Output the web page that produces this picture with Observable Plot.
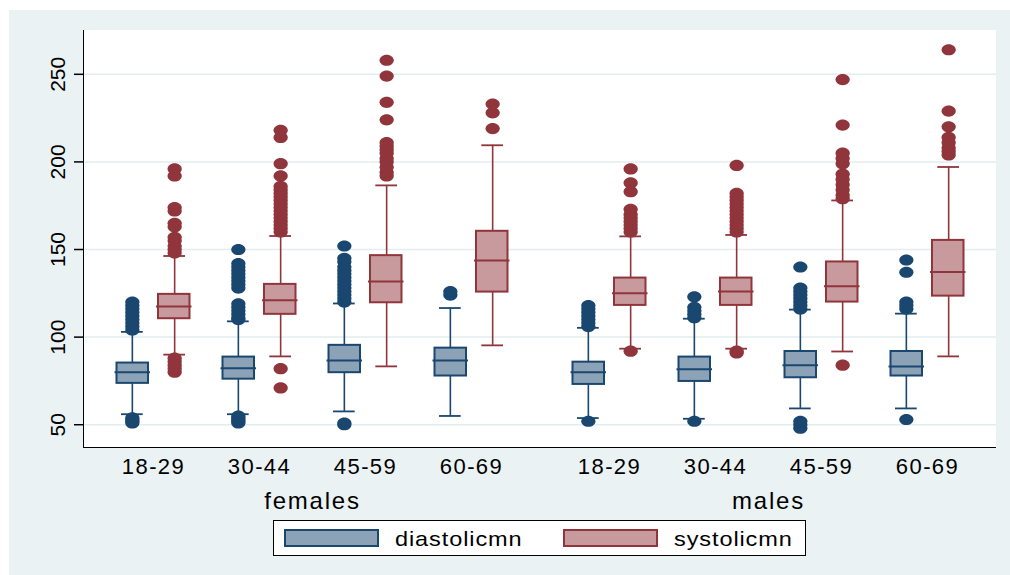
<!DOCTYPE html>
<html>
<head>
<meta charset="utf-8">
<script src="https://cdn.jsdelivr.net/npm/d3@7"></script>
<script src="https://cdn.jsdelivr.net/npm/@observablehq/plot@0.6"></script>
<style>
  html, body { margin: 0; padding: 0; background: white; }
  #bg { position: absolute; left: 9px; top: 10px; width: 1001px; height: 565px; background: #EAF2F3; }
  #panel { position: absolute; left: 83.1px; top: 30px; width: 912.9px; height: 417.9px; box-sizing: border-box;
           background: white; border-left: 1.8px solid black; border-bottom: 1.8px solid black; }
  #chart { position: absolute; left: 0; top: 0; }
  #chart svg { overflow: visible; }
  #legend { position: absolute; left: 273px; top: 520px; width: 533px; height: 36px; box-sizing: border-box;
            border: 1.5px solid black; background: white; font-family: "Liberation Sans", Arial, sans-serif; }
  #legend .sw { position: absolute; top: 7.5px; width: 95px; height: 18px; box-sizing: border-box; border: 2px solid; }
  #legend .lb { position: absolute; top: 6.5px; font-size: 21px; line-height: 21px; letter-spacing: 0.8px;
                transform: scaleX(1.12); transform-origin: left center; white-space: nowrap; color: black; }
</style>
</head>
<body>
<div id="bg"></div>
<div id="panel"></div>
<div id="chart"></div>
<div id="legend"></div>
<script>
// ---- data ----
const sexes = ["females", "males"];
const ages = ["18-29", "30-44", "45-59", "60-69"];
const series = ["diastolicmn", "systolicmn"];
const yTicks = [50, 100, 150, 200, 250];

// order: females 18-29,30-44,45-59,60-69, males 18-29,30-44,45-59,60-69
const diaLow  = [56, 56, 57.6, 55, 53.8, 53.4, 59.3, 59.3];
const diaQ1   = [73.6, 76, 79.7, 77.8, 73, 74.7, 76.8, 77.8];
const diaMed  = [80, 82.3, 86.7, 86.7, 80, 81.6, 83.9, 83.3];
const diaQ3   = [85.2, 88.6, 95.3, 93.7, 85.7, 88.6, 91.8, 91.8];
const diaHigh = [103, 109, 119.2, 116.6, 105.3, 110.5, 115.7, 113.4];

const sysLow  = [90, 89, 83.3, 95.3, 93.4, 93.4, 91.8, 89];
const sysQ1   = [110.5, 113, 119.6, 125.7, 118.1, 118.1, 120, 123.4];
const sysMed  = [117.5, 121, 131.8, 143.8, 125.1, 126.1, 129.1, 137.1];
const sysQ3   = [124.4, 130.1, 146.5, 160.4, 133.7, 133.7, 142.9, 155.2];
const sysHigh = [146.3, 157.7, 186.6, 209.5, 157.5, 158.3, 178, 197.1];

const diaOut = [
  [51, 52, 53, 54, 104, 106, 108, 110, 112, 114, 116, 118, 120],
  [51, 52, 53, 54, 55, 110, 111, 113, 115, 117, 119, 128, 130, 132, 134, 136, 138, 140, 142, 150],
  [50, 51, 120, 122, 124, 126, 128, 130, 132, 134, 136, 138, 140, 143, 145, 152],
  [124, 126],
  [52, 106, 108, 110, 112, 114, 116, 118],
  [52, 111, 113, 115, 117, 123],
  [48, 50, 52, 116, 118, 120, 122, 124, 126, 128, 140],
  [53, 116, 118, 120, 137, 144]
];
const sysOut = [
  [80, 82, 84, 86, 88, 148, 150, 152, 155, 157, 163, 165, 172, 174, 192, 196],
  [71, 82, 160, 162, 164, 166, 168, 170, 172, 174, 176, 178, 180, 182, 184, 186, 192, 199, 214, 218],
  [192, 194, 197, 200, 202, 205, 207, 209, 211, 224, 234, 249, 258],
  [219, 228, 233],
  [92, 160, 162, 164, 166, 168, 170, 173, 183, 188, 196],
  [91, 92, 160, 162, 164, 166, 168, 170, 172, 174, 176, 178, 180, 182, 198],
  [84, 179, 181, 184, 187, 190, 193, 199, 202, 205, 221, 247],
  [204, 206, 208, 211, 214, 220, 229, 264]
];

// ---- build tables ----
const stats = {
  diastolicmn: {low: diaLow, q1: diaQ1, med: diaMed, q3: diaQ3, high: diaHigh, out: diaOut},
  systolicmn: {low: sysLow, q1: sysQ1, med: sysMed, q3: sysQ3, high: sysHigh, out: sysOut}
};
const boxes = [], outliers = [];
for (const s of series) {
  const st = stats[s];
  for (let i = 0; i < 8; i++) {
    const sex = sexes[Math.floor(i / 4)], age = ages[i % 4];
    boxes.push({series: s, sex, age, low: st.low[i], q1: st.q1[i], med: st.med[i], q3: st.q3[i], high: st.high[i]});
    for (const v of st.out[i]) outliers.push({series: s, sex, age, value: v});
  }
}

// ---- styles ----
const look = {
  diastolicmn: {fill: "#8CA3B7", stroke: "#1A476F", boxL: 0.5, boxR: 42, capL: 5, capR: 47.3, dx: -21.15},
  systolicmn:  {fill: "#C89A9D", stroke: "#90353B", boxL: 42, boxR: 0.5, capL: 47.3, capR: 5, dx: 21.15}
};

const ellipse = {
  draw(ctx, size) {
    const r = Math.sqrt(size / Math.PI);
    const rx = r * 1.15, ry = r * 0.9, k = 0.5523;
    ctx.moveTo(rx, 0);
    ctx.bezierCurveTo(rx, k * ry, k * rx, ry, 0, ry);
    ctx.bezierCurveTo(-k * rx, ry, -rx, k * ry, -rx, 0);
    ctx.bezierCurveTo(-rx, -k * ry, -k * rx, -ry, 0, -ry);
    ctx.bezierCurveTo(k * rx, -ry, rx, -k * ry, rx, 0);
    ctx.closePath();
  }
};

function boxMarks(s) {
  const L = look[s];
  const b = boxes.filter(d => d.series === s);
  const o = outliers.filter(d => d.series === s);
  return [
    Plot.ruleX(b, {fx: "sex", x: "age", y1: "q3", y2: "high", dx: L.dx, stroke: L.stroke, strokeWidth: 1.6}),
    Plot.ruleX(b, {fx: "sex", x: "age", y1: "low", y2: "q1", dx: L.dx, stroke: L.stroke, strokeWidth: 1.6}),
    Plot.tickY(b, {fx: "sex", x: "age", y: "high", insetLeft: L.capL, insetRight: L.capR, stroke: L.stroke, strokeWidth: 1.8}),
    Plot.tickY(b, {fx: "sex", x: "age", y: "low", insetLeft: L.capL, insetRight: L.capR, stroke: L.stroke, strokeWidth: 1.8}),
    Plot.barY(b, {fx: "sex", x: "age", y1: "q1", y2: "q3", insetLeft: L.boxL, insetRight: L.boxR, fill: L.fill, stroke: L.stroke, strokeWidth: 2}),
    Plot.tickY(b, {fx: "sex", x: "age", y: "med", insetLeft: L.boxL - 2, insetRight: L.boxR - 2, stroke: L.stroke, strokeWidth: 2}),
    Plot.dot(o, {fx: "sex", x: "age", y: "value", dx: L.dx, r: 6.2, symbol: ellipse, fill: L.stroke, stroke: "none"})
  ];
}

const chart = Plot.plot({
  width: 1010,
  height: 515,
  marginTop: 30,
  marginBottom: 68,
  marginLeft: 84,
  marginRight: 14,
  style: {fontFamily: '"Liberation Sans", Arial, sans-serif', fontSize: "20px", color: "black", background: "transparent"},
  fx: {domain: sexes, padding: 0, axis: null},
  x: {domain: ages, padding: 0.3},
  y: {domain: [37, 275]},
  marks: [
    Plot.gridY(yTicks, {stroke: "#E3ECEF", strokeOpacity: 1, strokeWidth: 1.5}),
    Plot.axisY({ticks: yTicks, tickSize: 10, tickPadding: 10, tickRotate: -90, fontSize: 21, label: null, strokeWidth: 1.5}),
    Plot.axisX({tickSize: 0, tickPadding: 11, fontSize: 22, label: null}),
    Plot.text(sexes, {fx: d => d, text: d => d, frameAnchor: "bottom", lineAnchor: "bottom", dy: 61, fontSize: 24}),
    ...boxMarks("diastolicmn"),
    ...boxMarks("systolicmn")
  ]
});
document.getElementById("chart").appendChild(chart);

// letter spacing for the category texts (Stata-like wide text)
d3.select(chart).selectAll("text").each(function () {
  const t = this.textContent;
  if (ages.includes(t)) this.style.letterSpacing = "1.4px";
  if (sexes.includes(t)) this.style.letterSpacing = "1.8px";
});

// ---- legend ----
const legend = document.getElementById("legend");
const legendPos = {diastolicmn: {sw: 9.5, lb: 120.5}, systolicmn: {sw: 288.5, lb: 399.5}};
for (const s of series) {
  const sw = document.createElement("div");
  sw.className = "sw";
  sw.style.left = legendPos[s].sw + "px";
  sw.style.background = look[s].fill;
  sw.style.borderColor = look[s].stroke;
  legend.appendChild(sw);
  const lb = document.createElement("div");
  lb.className = "lb";
  lb.style.left = legendPos[s].lb + "px";
  lb.textContent = s;
  legend.appendChild(lb);
}
</script>
</body>
</html>
